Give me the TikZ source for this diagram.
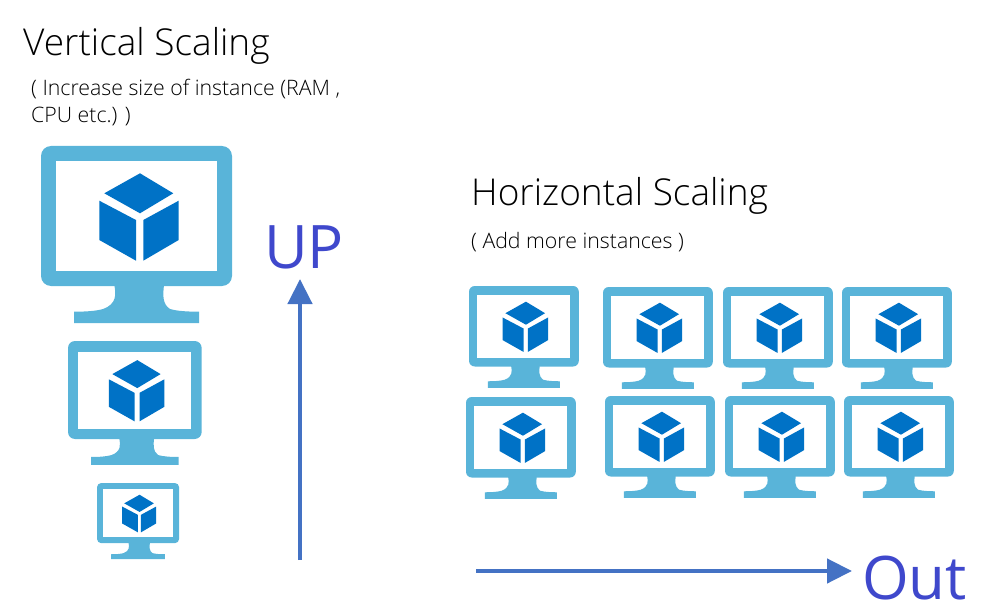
\documentclass[tikz,border=0pt]{standalone}
\usepackage{fontspec}
\setmainfont{Open Sans}[UprightFont=* Light]
\newfontfamily\wordfont{Open Sans}
\usepackage{xcolor}
\usetikzlibrary{positioning,arrows.meta}

\definecolor{screenblue}{HTML}{59B4D9}
\definecolor{cubeblue}{HTML}{0072C6}
\definecolor{arrowblue}{HTML}{4472C4}
\definecolor{wordblue}{HTML}{3F48CC}

\tikzset{
  title/.style={anchor=base west,inner sep=0pt,font=\fontsize{37}{42}\selectfont},
  note/.style={anchor=base west,inner sep=0pt,font=\fontsize{21.3}{27}\selectfont},
  bigword/.style={anchor=base west,inner sep=0pt,text=wordblue,font=\wordfont\fontsize{60}{70}\selectfont},
  growarrow/.style={arrowblue,line width=4.5pt,-{Triangle[length=25pt,width=24pt]}},
  pics/monitor/.style={code={
    % frame
    \fill[screenblue,rounded corners=#1*10pt] (0,0) rectangle (191,140);
    \fill[white] (14.7,15) rectangle (176.3,125.3);
    % stand
    \fill[screenblue] (73.3,139) .. controls (75,148) and (76,158) .. (62,163)
      .. controls (55,165) and (45,165.7) .. (33,165.7) -- (33,177) -- (158,177) -- (158,165.7)
      .. controls (146,165.7) and (136,165) .. (129,163)
      .. controls (121,158) and (122,148) .. (123,139) -- cycle;
    % cube
    \fill[cubeblue] (99,27.3) -- (132.3,47.3) -- (99,67.3) -- (63.3,47.3) -- cycle;
    \fill[cubeblue] (58.3,54.7) -- (95,74) -- (95,114.7) -- (58.3,94) -- cycle;
    \fill[cubeblue] (102.3,74) -- (137.7,54.7) -- (137.7,94) -- (102.3,114.7) -- cycle;
  }}
}

\begin{document}
\begin{tikzpicture}[x=1pt,y=-1pt]
\useasboundingbox (0,0) rectangle (989,615);

% Vertical side
\node[title] (verttitle) at (23,56) {Vertical Scaling};
\node[note] (vertnote) at (31,96) {( Increase size of instance (RAM ,};
\node[note] (vertnotetwo) at (31,123) {CPU etc.) )};
\foreach \nm/\x/\y/\s in {vbig/41/146/1,vmid/68/341/0.7,vsmall/97/483/0.43}
    \pic (\nm) at (\x,\y) [scale=\s] {monitor={\s}};
\node[bigword] (upword) at (264,269) {UP};
\coordinate (upstart) at (300,560);
\coordinate (upend) at (300,279);
\draw[growarrow] (upstart) -- (upend);

% Horizontal side
\node[title] (hortitle) at (471,206) {Horizontal Scaling};
\node[note] (hornote) at (471,248) {( Add more instances )};
\foreach \nm/\x/\y in {ha/469/286,hb/603/287,hc/723/287,hd/842/287,he/466/397,hf/605/396,hg/725/396,hh/844/396}
    \pic (\nm) at (\x,\y) [scale=0.575] {monitor={0.575}};
\coordinate (outstart) at (476,571);
\coordinate (outend) at (852,571);
\draw[growarrow] (outstart) -- (outend);
\node[bigword] (outword) at (862,599) {Out};
\end{tikzpicture}
\end{document}
